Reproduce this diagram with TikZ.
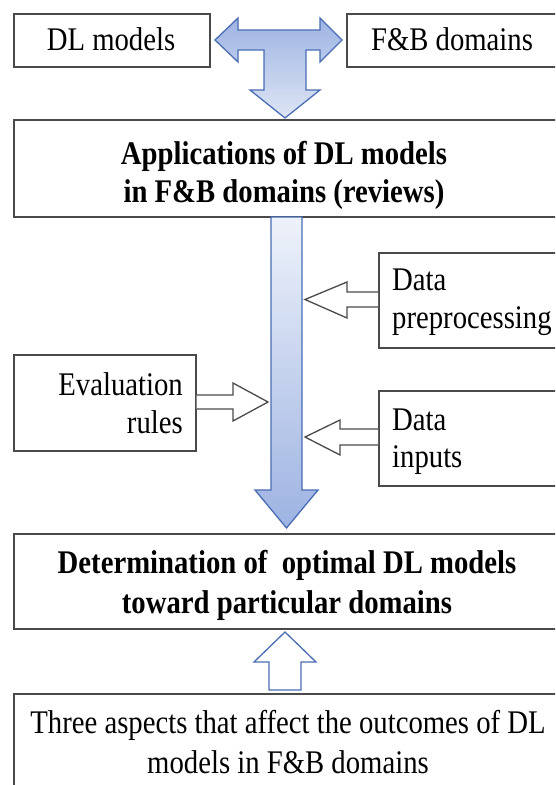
\documentclass[tikz,border=0pt]{standalone}
\usepackage{fontspec}
\setmainfont[FakeStretch=0.87]{Liberation Serif}
\definecolor{bluedge}{HTML}{4A6DB5}
\definecolor{bluedark}{HTML}{9DB3E2}
\definecolor{bluelight}{HTML}{EEF2FA}
\definecolor{boxline}{HTML}{4A4A4A}
\begin{document}
\begin{tikzpicture}[x=1pt,y=-1pt,
  font=\fontsize{33pt}{38pt}\selectfont,
  boxst/.style={draw=boxline, line width=1.6pt, rectangle, inner sep=0pt, anchor=north west},
  txt/.style={inner sep=0pt, anchor=base},
  txtl/.style={inner sep=0pt, anchor=base west},
  txtr/.style={inner sep=0pt, anchor=base east},
  sidearrow/.style={draw=boxline, line width=1.3pt, fill=white, line join=miter},
  bluearrow/.style={draw=bluedge, line width=1.3pt, line join=miter}]
\useasboundingbox (0,0) rectangle (555,785);
\fill[white] (0,0) rectangle (555,785);
\clip (0,0) rectangle (555,785);

% boxes
\node[boxst, minimum width=196, minimum height=53] (dl) at (13,13) {};
\node[boxst, minimum width=220, minimum height=53] (fb) at (346,13) {};
\node[boxst, minimum width=550, minimum height=97] (app) at (13,119) {};
\node[boxst, minimum width=200, minimum height=95] (prep) at (378,252) {};
\node[boxst, minimum width=200, minimum height=95] (inp) at (378,390) {};
\node[boxst, minimum width=182, minimum height=96] (eval) at (13,354) {};
\node[boxst, minimum width=550, minimum height=95] (det) at (13,533) {};
\node[boxst, minimum width=550, minimum height=120] (three) at (13,693) {};

% texts
\node[txt] (tdl) at (111,50) {DL models};
\node[txt] (tfb) at (452,50) {F\&B domains};
\node[txt] (tapp1) at (284,164) {\bfseries Applications of DL models};
\node[txt] (tapp2) at (284,202) {\bfseries in F\&B domains (reviews)};
\node[txtl] (tprep1) at (392,290) {Data};
\node[txtl] (tprep2) at (392,328) {preprocessing};
\node[txtl] (tinp1) at (392,430) {Data};
\node[txtl] (tinp2) at (392,467) {inputs};
\node[txtr] (teval1) at (183,395) {Evaluation};
\node[txtr] (teval2) at (183,433) {rules};
\node[txt] (tdet1) at (287,573) {\bfseries Determination of\ \ optimal DL models};
\node[txt] (tdet2) at (287,613) {\bfseries toward particular domains};
\node[txt] (tthree1) at (288,733) {Three aspects that affect the outcomes of DL};
\node[txt] (tthree2) at (288,773) {models in F\&B domains};

% T-shaped arrow between DL models, F&B domains and Applications
\path[bluearrow, top color=bluedark, bottom color=bluelight!80!bluedark]
  (215,40) -- (238,18) -- (238,30) -- (320,30) -- (320,18) -- (342,40)
  -- (320,62) -- (320,50) -- (306,50) -- (306,90) -- (320,90) -- (285,118)
  -- (250,90) -- (264,90) -- (264,50) -- (238,50) -- (238,62) -- cycle;

% main vertical arrow
\path[bluearrow, top color=bluelight, bottom color=bluedark]
  (271,217) -- (302,217) -- (302,490) -- (318,490) -- (286.5,528)
  -- (255,490) -- (271,490) -- cycle;

% side arrows
\path[sidearrow] (prep.west |- 0,292) -- (347,292) -- (347,282) -- (305,299.5)
  -- (347,318) -- (347,307) -- (prep.west |- 0,307);
\path[sidearrow] (inp.west |- 0,429) -- (340,429) -- (340,420) -- (305,437)
  -- (340,455) -- (340,445) -- (inp.west |- 0,445);
\path[sidearrow] (eval.east |- 0,395) -- (233,395) -- (233,383) -- (268,402)
  -- (233,421) -- (233,409) -- (eval.east |- 0,409);

% up arrow
\path[bluearrow, fill=white] (285,632) -- (316,662) -- (301,662) -- (301,690)
  -- (269,690) -- (269,662) -- (254,662) -- cycle;
\end{tikzpicture}
\end{document}
